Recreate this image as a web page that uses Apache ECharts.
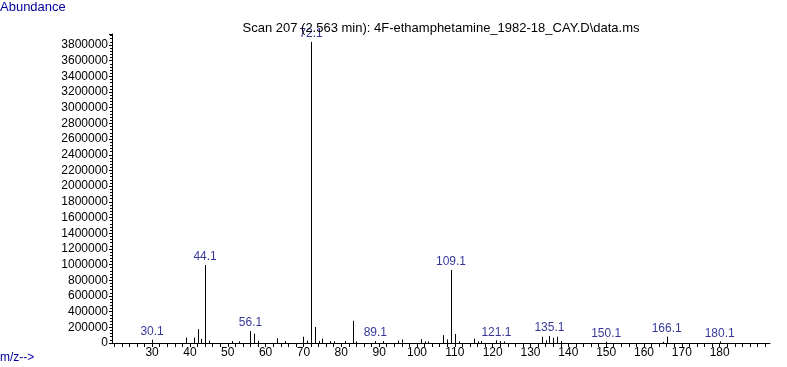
<!DOCTYPE html>
<html><head><meta charset="utf-8">
<script src="https://cdn.jsdelivr.net/npm/echarts@6/dist/echarts.min.js"></script>
<style>html,body{margin:0;padding:0;background:#fff}#c{width:787px;height:367px}</style>
</head><body><div id="c"></div>
<script>
// m/z values and abundances
const mz = [30, 39, 41, 42, 43, 44, 45, 51, 53, 56, 57, 58, 63, 65, 70, 71, 72, 73, 74, 75, 77, 78, 81, 83, 84, 89, 91, 95, 96, 101, 102, 103, 107, 108, 109, 110, 111, 115, 116, 117, 121, 122, 123, 133, 134, 135, 136, 137, 138, 150, 165, 166, 180];
const abundance = [42000, 68000, 70000, 176000, 52000, 995000, 30000, 25000, 20000, 153000, 119000, 30000, 62000, 25000, 80000, 30000, 3840000, 204000, 25000, 55000, 25000, 20000, 25000, 284000, 20000, 25000, 25000, 30000, 45000, 50000, 20000, 20000, 100000, 45000, 931000, 115000, 20000, 55000, 20000, 25000, 35000, 25000, 20000, 80000, 35000, 90000, 65000, 80000, 25000, 15000, 15000, 82000, 20000];
// annotated peaks
const labelMz = [30, 44, 56, 72, 89, 109, 121, 135, 150, 166, 180];
const labelText = ['30.1', '44.1', '56.1', '72.1', '89.1', '109.1', '121.1', '135.1', '150.1', '166.1', '180.1'];
// axis tick labels
const xLabels = [30, 40, 50, 60, 70, 80, 90, 100, 110, 120, 130, 140, 150, 160, 170, 180];
const xTicks = [20, 22, 24, 26, 28, 30, 32, 34, 36, 38, 40, 42, 44, 46, 48, 50, 52, 54, 56, 58, 60, 62, 64, 66, 68, 70, 72, 74, 76, 78, 80, 82, 84, 86, 88, 90, 92, 94, 96, 98, 100, 102, 104, 106, 108, 110, 112, 114, 116, 118, 120, 122, 124, 126, 128, 130, 132, 134, 136, 138, 140, 142, 144, 146, 148, 150, 152, 154, 156, 158, 160, 162, 164, 166, 168, 170, 172, 174, 176, 178, 180, 182, 184, 186, 188, 190, 192];
const titleText = 'Scan 207 (2.563 min): 4F-ethamphetamine_1982-18_CAY.D\\data.ms';

const peakData = mz.map((m, i) => [m, abundance[i]]);
const labelData = labelMz.map((m, i) => [m, abundance[mz.indexOf(m)], labelText[i]]);

const font = 'Arial, "Liberation Sans", sans-serif';
const blue = '#000080';
const chart = echarts.init(document.getElementById('c'), null, {renderer: 'canvas'});
chart.setOption({
  animation: false,
  backgroundColor: '#fff',
  title: {
    text: titleText, left: 436, textAlign: 'center', top: 17,
    textStyle: {fontSize: 13, fontWeight: 'normal', color: '#000', fontFamily: font}
  },
  graphic: [
    {type: 'text', left: 0, top: 1, style: {text: 'Abundance', fill: '#00009c', font: '13px ' + font}},
    {type: 'text', left: 0, top: 352, style: {text: 'm/z-->', fill: '#00009c', font: '12px ' + font}}
  ],
  grid: {left: 112, right: 17, top: 34, bottom: 24, containLabel: false},
  xAxis: {
    type: 'value', min: 19.4, max: 193.3,
    axisLine: {show: true, lineStyle: {color: '#000', width: 1}},
    axisTick: {show: true, length: 4, lineStyle: {color: '#000'}, customValues: xTicks},
    axisLabel: {color: '#000', fontSize: 12, fontFamily: font, margin: 4, customValues: xLabels},
    splitLine: {show: false}
  },
  yAxis: {
    type: 'value', min: 0, max: 3940000, interval: 200000,
    axisLine: {show: true, lineStyle: {color: '#000', width: 1}},
    axisTick: {show: true, length: 3, lineStyle: {color: '#000'}},
    minorTick: {show: true, splitNumber: 5, length: 2, lineStyle: {color: '#000'}},
    axisLabel: {
      color: '#000', fontSize: 12, fontFamily: font, margin: 4, showMaxLabel: false,
      formatter: v => (v % 200000 === 0 ? String(v) : '')
    },
    splitLine: {show: false}
  },
  series: [
    {
      type: 'custom',
      data: peakData,
      renderItem: (params, api) => {
        const p0 = api.coord([api.value(0), 0]);
        const p1 = api.coord([api.value(0), api.value(1)]);
        const x = Math.round(p0[0]) + 0.5;
        return {type: 'line', shape: {x1: x, y1: p0[1], x2: x, y2: p1[1]}, style: {stroke: '#000', lineWidth: 1}};
      },
      silent: true
    },
    {
      type: 'scatter',
      data: labelData,
      symbolSize: 0,
      label: {
        show: true, position: 'top', distance: 2,
        formatter: p => p.data[2],
        color: blue, fontSize: 12, fontFamily: font
      },
      silent: true
    }
  ]
});
</script></body></html>
